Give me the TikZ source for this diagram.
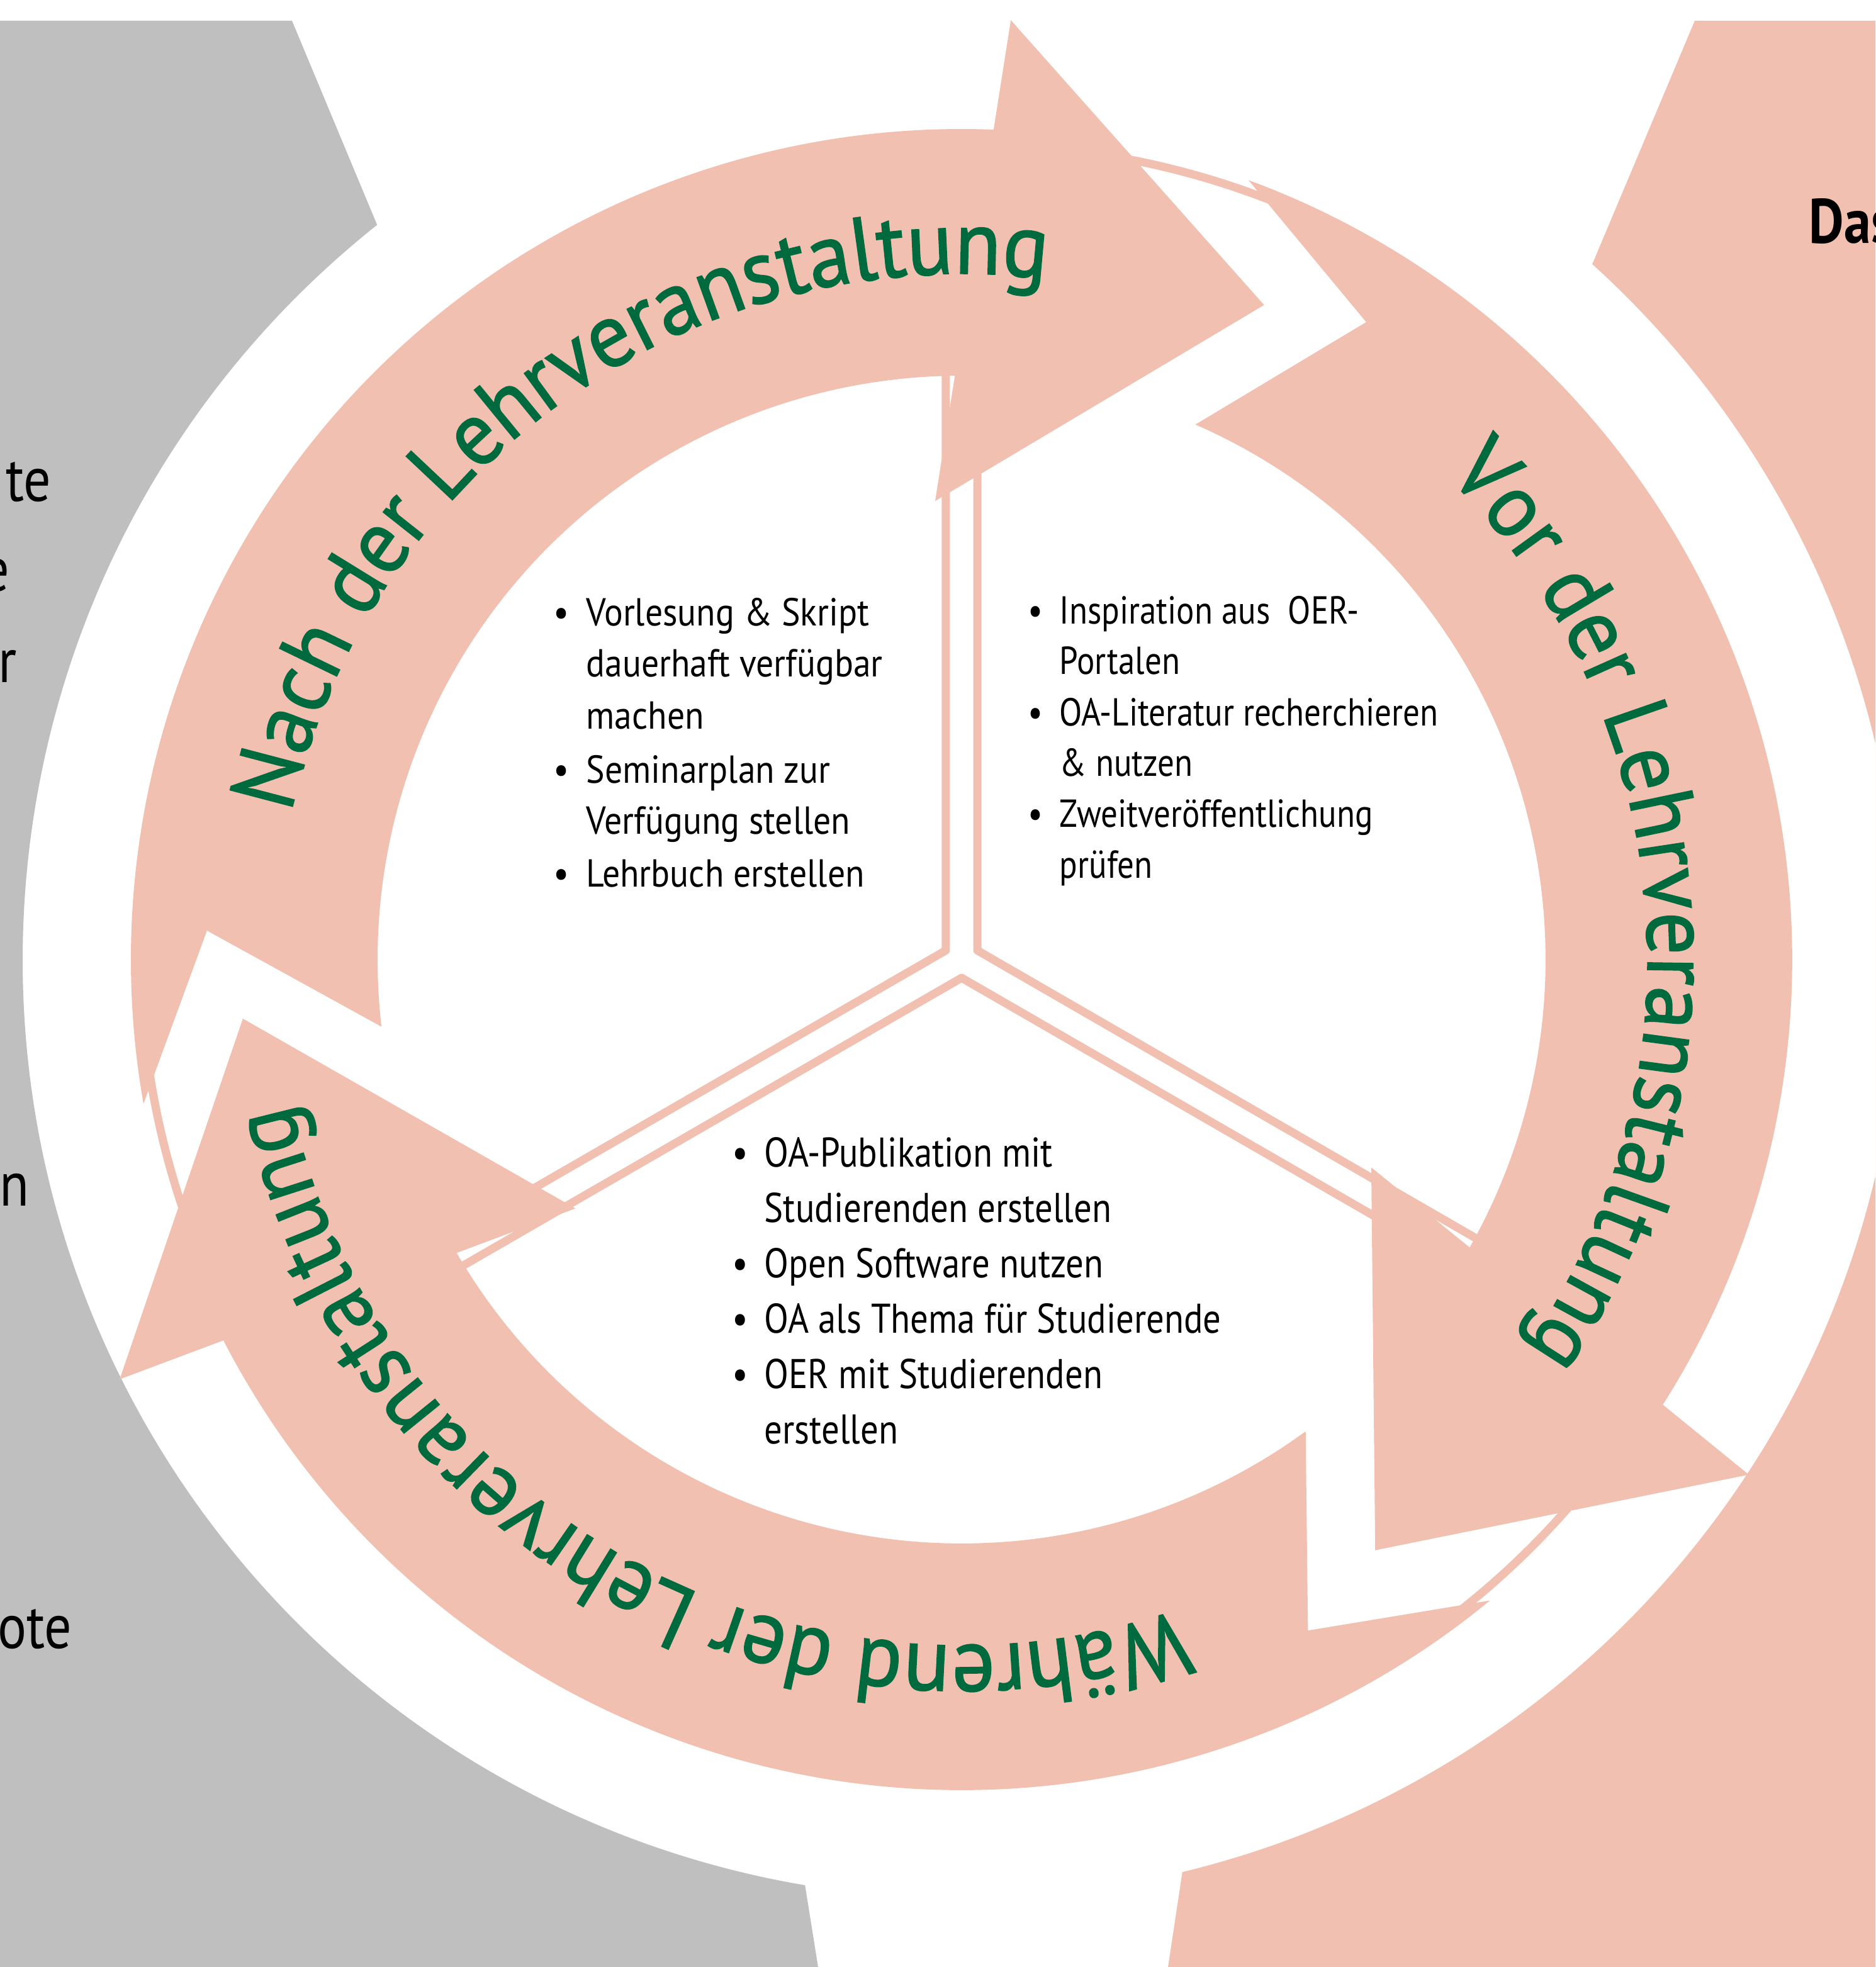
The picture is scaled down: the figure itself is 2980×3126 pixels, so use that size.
\documentclass[tikz,border=0pt]{standalone}
\usepackage{fontspec}
\usetikzlibrary{decorations.text}
\definecolor{pk}{HTML}{F2C0B0}
\definecolor{gy}{HTML}{BFBFBF}
\definecolor{grn}{HTML}{006A3F}
\newfontfamily\ptbase{PT Sans}
\newlength\tmpw
\settowidth\tmpw{\ptbase\fontsize{16.5pt}{20pt}\selectfont OA als Thema für Studierende}
\pgfmathsetmacro\strB{181.5/\tmpw}
\settowidth\tmpw{\ptbase\fontsize{15.5pt}{20pt}\selectfont dauerhaft verfügbar}
\pgfmathsetmacro\strL{117.75/\tmpw}
\settowidth\tmpw{\ptbase\fontsize{15.5pt}{20pt}\selectfont OA-Literatur recherchieren}
\pgfmathsetmacro\strR{150.5/\tmpw}
\settowidth\tmpw{\ptbase\fontsize{36pt}{40pt}\selectfont Nach der Lehrveranstaltung}
\pgfmathsetmacro\strG{401/\tmpw}
\edef\tmpdef{\noexpand\newfontfamily\noexpand\fB[FakeStretch=\strB]{PT Sans}}\tmpdef
\edef\tmpdef{\noexpand\newfontfamily\noexpand\fL[FakeStretch=\strL]{PT Sans}}\tmpdef
\edef\tmpdef{\noexpand\newfontfamily\noexpand\fR[FakeStretch=\strR]{PT Sans}}\tmpdef
\edef\tmpdef{\noexpand\newfontfamily\noexpand\fG[FakeStretch=\strG,FakeBold=1.3]{PT Sans}}\tmpdef
\newcommand\gtext{\fG\fontsize{36pt}{40pt}\selectfont\color{grn}}
\begin{document}
\begin{tikzpicture}[x=0.25pt,y=0.25pt,
  sector/.style={fill=white,draw=pk,line width=3.25pt,line join=round},
  colL/.style={anchor=base west,inner sep=0pt,font=\fL\fontsize{15.5pt}{18pt}\selectfont},
  colR/.style={anchor=base west,inner sep=0pt,font=\fR\fontsize{15.5pt}{18pt}\selectfont},
  colB/.style={anchor=base west,inner sep=0pt,font=\fB\fontsize{16.5pt}{18pt}\selectfont},
  bulL/.style={colL,anchor=base},
  bulR/.style={colR,anchor=base},
  bulB/.style={colB,anchor=base},
  graytext/.style={anchor=base east,inner sep=0pt,font=\fB\fontsize{25pt}{30pt}\selectfont},
  arclabel/.style={decorate,decoration={text along path,text align=center,text={|\gtext|#1}}}
]
\useasboundingbox (-1528,-1601) rectangle (1452,1525);
\clip (-1528,-1601) rectangle (1452,1525);
% outer ring pieces
\fill[gy] (-1528,1492) -- (-1064,1492) -- (128.5:1492)
  arc[start angle=128.5,end angle=260.4,radius=1492] -- (-228,-1601) -- (-1528,-1601) -- cycle;
\fill[pk] (1165,1492) -- (47.8:1492)
  arc[start angle=47.8,end angle=-76.4,radius=1492] -- (328,-1601) -- (1452,-1601) -- (1452,1492) -- cycle;
% three sectors
\foreach \rot in {0,-120,120}{
  \draw[sector,rotate=\rot] (150:29) -- ++(90:1280)
    arc[start angle=90,end angle=210,radius=1280] -- cycle;
}
% three arrows
\foreach \rot in {0,-120.2,119.5}{
  \fill[pk,rotate=\rot] (190:1320) -- (177.8:1200) -- (186.6:928)
    arc[start angle=186.6,end angle=90.66,radius=928]
    -- (93.3:730) -- (65.2:1146) -- (87:1495) -- (87.79:1320)
    arc[start angle=87.79,end angle=190,radius=1320] -- cycle;
}
% curved labels
\path[arclabel={Nach der Lehrveranstaltung}] (185.3:1090) arc[start angle=185.3,end angle=65.3,radius=1090];
\path[arclabel={Vor der Lehrveranstaltung}] (65.2:1090) arc[start angle=65.2,end angle=-54.8,radius=1090];
\path[arclabel={Während der Lehrveranstaltung}] (300.3:1090) arc[start angle=300.3,end angle=180.3,radius=1090];
% left column
\node[bulL] (lb1) at (-636,530) {•};
\node[colL] (l1) at (-597,530) {Vorlesung \& Skript};
\node[colL] (l2) at (-597,449) {dauerhaft verfügbar};
\node[colL] (l3) at (-597,366) {machen};
\node[bulL] (lb2) at (-636,281) {•};
\node[colL] (l4) at (-597,281) {Seminarplan zur};
\node[colL] (l5) at (-597,199) {Verfügung stellen};
\node[bulL] (lb3) at (-636,116) {•};
\node[colL] (l6) at (-597,116) {Lehrbuch erstellen};
% right column
\node[bulR] (rb1) at (117,533) {•};
\node[colR] (r1) at (155,533) {Inspiration aus\ \ OER-};
\node[colR] (r2) at (155,453) {Portalen};
\node[bulR] (rb2) at (117,371) {•};
\node[colR] (r3) at (155,371) {OA-Literatur recherchieren};
\node[colR] (r4) at (155,291) {\& nutzen};
\node[bulR] (rb3) at (117,210) {•};
\node[colR] (r5) at (155,210) {Zweitveröffentlichung};
\node[colR] (r6) at (155,130) {prüfen};
% bottom column
\node[bulB] (bb1) at (-352,-329) {•};
\node[colB] (b1) at (-314,-329) {OA-Publikation mit};
\node[colB] (b2) at (-314,-417) {Studierenden erstellen};
\node[bulB] (bb2) at (-352,-505) {•};
\node[colB] (b3) at (-314,-505) {Open Software nutzen};
\node[bulB] (bb3) at (-352,-593) {•};
\node[colB] (b4) at (-314,-593) {OA als Thema für Studierende};
\node[bulB] (bb4) at (-352,-681) {•};
\node[colB] (b5) at (-314,-681) {OER mit Studierenden};
\node[colB] (b6) at (-314,-769) {erstellen};
% fragments on the outer ring
\node[graytext] (g1) at (-1446,728) {te};
\node[graytext] (g2) at (-1512,585) {e};
\node[graytext] (g3) at (-1500,440) {r};
\node[graytext] (g4) at (-1481,-391) {n};
\node[graytext] (g5) at (-1413,-1094) {ote};
\node[anchor=base west,inner sep=0pt,font=\fB\bfseries\fontsize{25pt}{30pt}\selectfont] (das) at (1346,1138) {Das};
\end{tikzpicture}
\end{document}
